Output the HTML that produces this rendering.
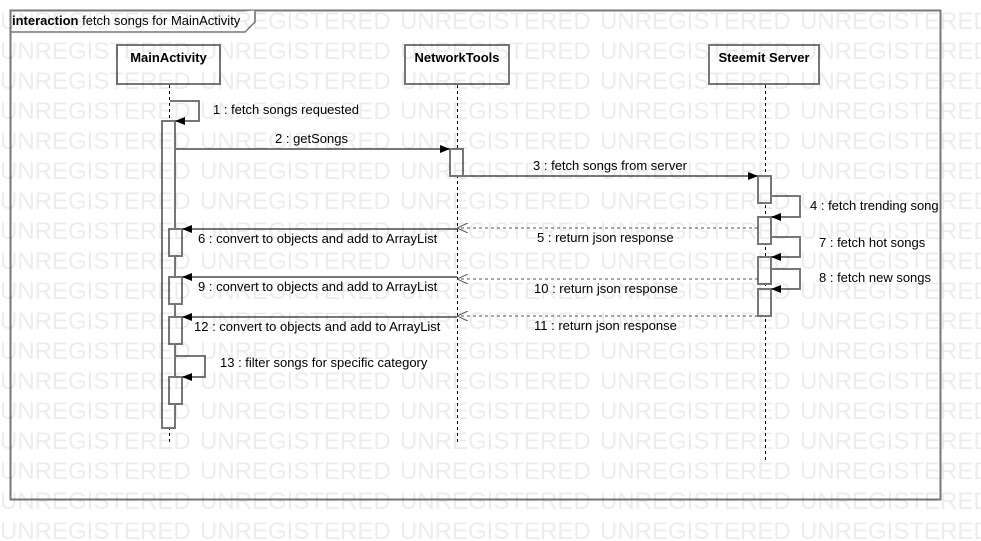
<!DOCTYPE html>
<html><head><meta charset="utf-8"><style>
html,body{margin:0;padding:0;background:#fff;}
svg{display:block;font-family:"Liberation Sans",Arial,sans-serif;}
</style></head><body>
<svg width="981" height="541" viewBox="0 0 981 541" xmlns="http://www.w3.org/2000/svg">
<defs>
<marker id="fa" markerWidth="10" markerHeight="8" refX="10" refY="4" orient="auto" markerUnits="userSpaceOnUse"><path d="M0,0 L10,4 L0,8 Z" fill="#000"/></marker>
<marker id="oa" markerWidth="11" markerHeight="10" refX="11" refY="5" orient="auto" markerUnits="userSpaceOnUse"><path d="M0,0 L11,5 L0,10" fill="none" stroke="#555" stroke-width="1"/></marker>
</defs>
<rect x="10.5" y="10.5" width="930" height="489" fill="none" stroke="#777" stroke-width="2"/>
<path d="M10.5,32 H245 L255,22 V10.5" fill="#fff" stroke="#777" stroke-width="1.5"/>
<text x="12" y="25" font-size="13"><tspan font-weight="bold">interaction</tspan> fetch songs for MainActivity</text>
<g fill="#fff" stroke="#777" stroke-width="2">
<rect x="117" y="45" width="103" height="39"/>
<rect x="405" y="45" width="104" height="39"/>
<rect x="709" y="45" width="110" height="39"/>
</g>
<g font-size="13" font-weight="bold" text-anchor="middle">
<text x="168.5" y="62">MainActivity</text>
<text x="457" y="62">NetworkTools</text>
<text x="764" y="62">Steemit Server</text>
</g>
<g stroke="#000" stroke-width="1" stroke-dasharray="3,3">
<line x1="169.5" y1="85" x2="169.5" y2="442"/>
<line x1="457.5" y1="85" x2="457.5" y2="442"/>
<line x1="765.5" y1="85" x2="765.5" y2="460"/>
</g>
<g fill="#fff" stroke="#777" stroke-width="2">
<rect x="162" y="121" width="13" height="307"/>
<rect x="169" y="229" width="13" height="27"/>
<rect x="169" y="277" width="13" height="27"/>
<rect x="169" y="317" width="13" height="27"/>
<rect x="169" y="377" width="13" height="27"/>
<rect x="450" y="149" width="13" height="27"/>
<rect x="758" y="176" width="13" height="27"/>
<rect x="758" y="217" width="13" height="27"/>
<rect x="758" y="257" width="13" height="27"/>
<rect x="758" y="289" width="13" height="27"/>
</g>
<g fill="none" stroke="#777" stroke-width="2">
<path d="M170,101 H199 V121 H175" marker-end="url(#fa)"/>
<path d="M175,149 H450" marker-end="url(#fa)"/>
<path d="M463,176 H758" marker-end="url(#fa)"/>
<path d="M771,196 H800 V217 H771" marker-end="url(#fa)"/>
<path d="M771,237 H800 V257 H771" marker-end="url(#fa)"/>
<path d="M771,269 H800 V289 H771" marker-end="url(#fa)"/>
<path d="M457,229 H182" marker-end="url(#fa)"/>
<path d="M457,277 H182" marker-end="url(#fa)"/>
<path d="M457,317 H182" marker-end="url(#fa)"/>
<path d="M175,356 H205 V377 H182" marker-end="url(#fa)"/>
</g>
<g fill="none" stroke="#555" stroke-width="1" stroke-dasharray="3,3">
<path d="M758,228 H457" marker-end="url(#oa)"/>
<path d="M758,279 H457" marker-end="url(#oa)"/>
<path d="M758,316 H457" marker-end="url(#oa)"/>
</g>
<g font-size="13" fill="#000">
<text x="213" y="114">1 : fetch songs requested</text>
<text x="275" y="143">2 : getSongs</text>
<text x="533" y="170">3 : fetch songs from server</text>
<text x="810" y="210">4 : fetch trending song</text>
<text x="537" y="242">5 : return json response</text>
<text x="198" y="243">6 : convert to objects and add to ArrayList</text>
<text x="819" y="247">7 : fetch hot songs</text>
<text x="819" y="282">8 : fetch new songs</text>
<text x="198" y="291">9 : convert to objects and add to ArrayList</text>
<text x="534" y="293">10 : return json response</text>
<text x="534" y="330">11 : return json response</text>
<text x="194" y="331">12 : convert to objects and add to ArrayList</text>
<text x="220" y="367">13 : filter songs for specific category</text>
</g>
<g fill="#000" fill-opacity="0.075" font-size="24">
<g id="row">
<text x="0" y="29">UNREGISTERED</text><text x="200" y="29">UNREGISTERED</text><text x="400" y="29">UNREGISTERED</text><text x="600" y="29">UNREGISTERED</text><text x="800" y="29">UNREGISTERED</text>
</g>
<use href="#row" y="30"/><use href="#row" y="60"/><use href="#row" y="90"/><use href="#row" y="120"/><use href="#row" y="150"/><use href="#row" y="180"/><use href="#row" y="210"/><use href="#row" y="240"/><use href="#row" y="270"/><use href="#row" y="300"/><use href="#row" y="330"/><use href="#row" y="360"/><use href="#row" y="390"/><use href="#row" y="420"/><use href="#row" y="450"/><use href="#row" y="480"/><use href="#row" y="510"/>
</g>
</svg>
</body></html>
